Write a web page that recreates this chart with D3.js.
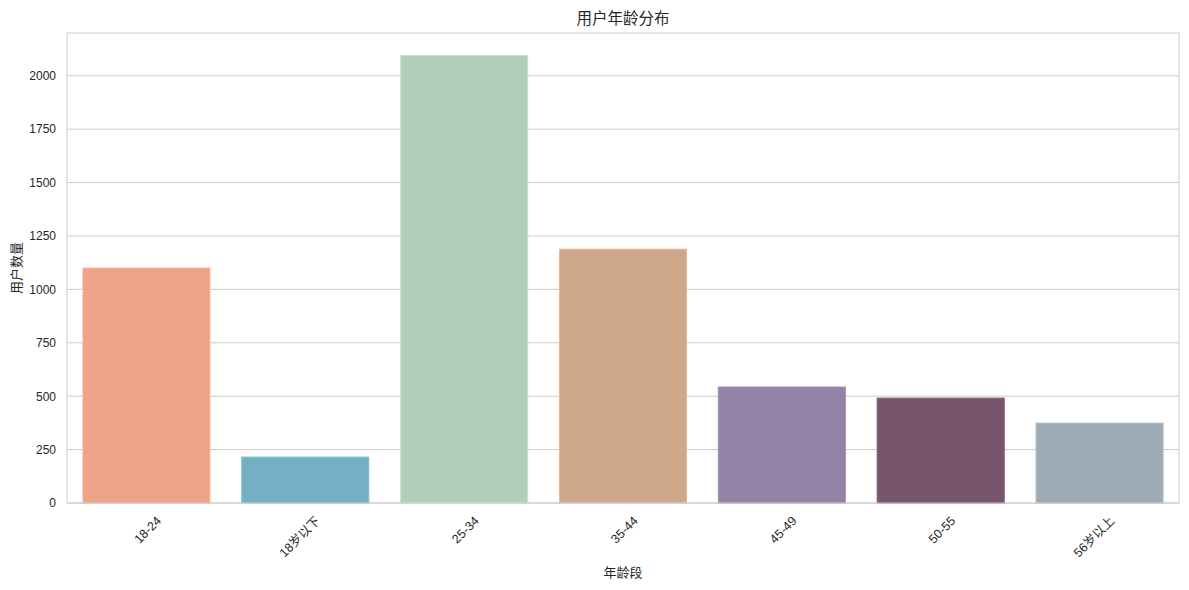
<!DOCTYPE html>
<html>
<head>
<meta charset="utf-8">
<script src="https://cdn.jsdelivr.net/npm/d3@7"></script>
<style>
  html, body { margin: 0; padding: 0; background: #fff; overflow: hidden; }
  svg { display: block; }
  svg text { font-family: "Liberation Sans", "Noto Sans CJK SC", sans-serif; }
</style>
</head>
<body>
<svg id="chart"></svg>
<script>
// data
const categories = ["18-24", "18岁以下", "25-34", "35-44", "45-49", "50-55", "56岁以上"];
const userCounts = [1100, 215, 2095, 1188, 543, 491, 374];
const barColors = ["#EFA48A", "#75AFC3", "#AFCFBC", "#CEA689", "#9481A6", "#77566D", "#9FABB4"];
const yTicks = [0, 250, 500, 750, 1000, 1250, 1500, 1750, 2000];

const width = 1189, height = 590;
const margin = { top: 33, right: 10, bottom: 87, left: 67 };
const innerWidth = width - margin.left - margin.right;
const innerHeight = height - margin.top - margin.bottom;

const svg = d3.select("#chart")
    .attr("width", width)
    .attr("height", height)
    .attr("viewBox", `0 0 ${width} ${height}`);

const x = d3.scaleBand()
    .range([0, innerWidth])
    .domain(categories)
    .paddingInner(0.2)
    .paddingOuter(0.1);

const y = d3.scaleLinear()
    .range([innerHeight, 0])
    .domain([0, 2200]);

const g = svg.append("g")
    .attr("transform", `translate(${margin.left},${margin.top})`);

// horizontal grid
g.append("g")
    .selectAll("line")
    .data(yTicks)
    .enter().append("line")
    .attr("x1", 0)
    .attr("x2", innerWidth)
    .attr("y1", d => y(d))
    .attr("y2", d => y(d))
    .attr("stroke", "#cccccc")
    .attr("stroke-width", 1);

// bars
g.selectAll(".bar")
    .data(categories)
    .enter().append("rect")
    .attr("class", "bar")
    .attr("x", d => x(d))
    .attr("y", (d, i) => y(userCounts[i]))
    .attr("width", x.bandwidth())
    .attr("height", (d, i) => innerHeight - y(userCounts[i]))
    .attr("fill", (d, i) => barColors[i])
    .attr("stroke", (d, i) => d3.color(barColors[i]).brighter(0.3))
    .attr("stroke-width", 1);

// frame
g.append("rect")
    .attr("width", innerWidth)
    .attr("height", innerHeight)
    .attr("fill", "none")
    .attr("stroke", "#cccccc")
    .attr("stroke-width", 1);

// y axis
const yAxis = g.append("g")
    .call(d3.axisLeft(y).tickValues(yTicks).tickFormat(d3.format("d")).tickSize(0).tickPadding(11));
yAxis.attr("font-family", null).attr("font-size", null);
yAxis.select(".domain").remove();
yAxis.selectAll("text")
    .attr("font-size", "12px")
    .attr("fill", "#262626");

// x axis
const xAxis = g.append("g")
    .attr("transform", `translate(0,${innerHeight})`)
    .call(d3.axisBottom(x).tickSize(0).tickPadding(12));
xAxis.attr("font-family", null).attr("font-size", null);
xAxis.select(".domain").remove();
xAxis.selectAll("text")
    .attr("font-size", "12.5px")
    .attr("fill", "#262626")
    .attr("text-anchor", "end")
    .attr("dy", "0.35em")
    .attr("transform", "translate(4,7) rotate(-45)");

// titles
svg.append("text")
    .attr("x", margin.left + innerWidth / 2)
    .attr("y", 24)
    .attr("text-anchor", "middle")
    .attr("font-size", "15.5px")
    .attr("fill", "#262626")
    .text("用户年龄分布");

svg.append("text")
    .attr("x", margin.left + innerWidth / 2)
    .attr("y", 577)
    .attr("text-anchor", "middle")
    .attr("font-size", "13px")
    .attr("fill", "#262626")
    .text("年龄段");

svg.append("text")
    .attr("transform", `translate(21,${margin.top + innerHeight / 2}) rotate(-90)`)
    .attr("text-anchor", "middle")
    .attr("font-size", "13px")
    .attr("fill", "#262626")
    .text("用户数量");
</script>
</body>
</html>
